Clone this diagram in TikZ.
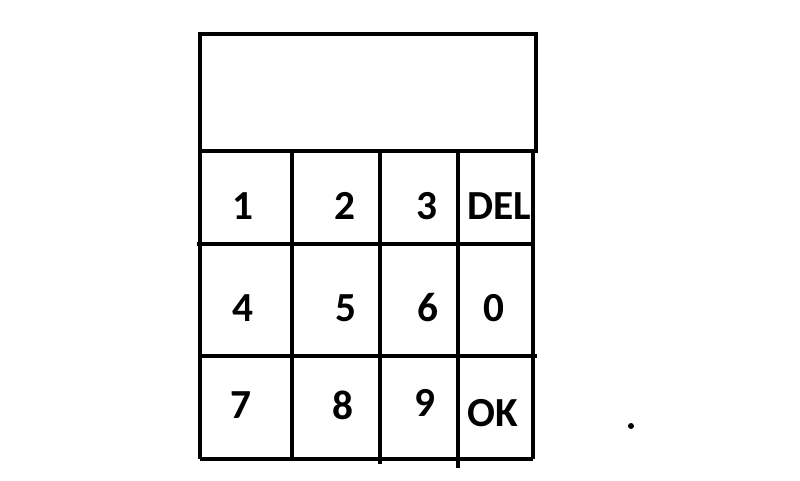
\documentclass[tikz,border=0pt]{standalone}
\usepackage{fontspec}
\setmainfont{Carlito}
\begin{document}
\begin{tikzpicture}[x=0.75pt, y=-0.75pt, line width=3.3pt,
  key/.style={font=\bfseries\fontsize{31}{31}\selectfont, inner sep=0pt, anchor=center}]
\useasboundingbox (0,0) rectangle (800,480);
% display
\draw (200,34) rectangle (536,151);
% keypad grid
\draw (200,151) -- (200,459);
\draw (292,151) -- (292,459);
\draw (380,151) -- (380,464);
\draw (458,151) -- (458,468);
\draw (533,151) -- (533,459);
\draw (197,244) -- (533,244);
\draw (200,356) -- (537,356);
\draw (200,459) -- (533,459);
% keys
\foreach \name/\x/\y/\txt in {k1/243/206/1, k2/345/206/2, k3/427/206/3, del/499/206/DEL,
  k4/243/308/4, k5/346/308/5, k6/428/308/6, k0/494/308/0,
  k7/241/405/7, k8/343/405/8, k9/425/403/9, ok/493/413/OK}
  \node[key] (\name) at (\x,\y) {\txt};
\fill (631,426) circle (3);
\end{tikzpicture}
\end{document}
